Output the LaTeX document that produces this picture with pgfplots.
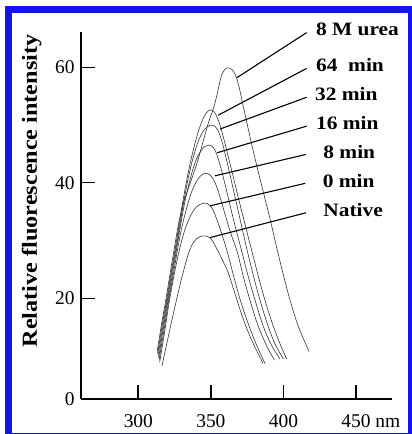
\documentclass[border=0pt]{standalone}
\usepackage{pgfplots}
\pgfplotsset{compat=1.18}
\usepackage{fontspec}
\setmainfont{Liberation Serif}
\newfontfamily\widefont{Liberation Serif}[FakeStretch=1.13]
\definecolor{frameblue}{RGB}{20,20,235}

\pgfplotsset{
  curve/.style={smooth, tension=0.55, line width=0.6bp, black!80, no markers},
  pointer/.style={line width=1.1bp, black, no markers},
}

\begin{document}
\begin{tikzpicture}
\useasboundingbox (0,0) rectangle (412bp,434bp);
\begin{axis}[
  at={(81bp,35bp)}, anchor=south west,
  scale only axis, width=311bp, height=367bp,
  xmin=260.5, xmax=474.8, ymin=2.56, ymax=66.1,
  axis x line=bottom, axis y line=left,
  axis line style={-, line width=1.6bp},
  tick align=inside, major tick length=14bp,
  xtick={300,350,400,450}, xticklabels={300,350,400,{450\rlap{\ nm}}},
  ytick={2.56,20,40,60}, yticklabels={0,20,40,60},
  xtick style={line width=1.8bp, black}, ytick style={line width=0.8bp, black},
  tick label style={font=\fontsize{19.5}{19.5}\selectfont},
  xticklabel style={yshift=-12bp},
  yticklabel style={xshift=-3bp},
  ylabel={Relative fluorescence intensity},
  ylabel style={at={(axis description cs:-0.159,0.567)}, anchor=center,
    font=\widefont\bfseries\fontsize{21.5}{21.5}\selectfont},
  clip=false,
]
% Native
\addplot[curve] coordinates {(316.3,8.3) (320,12.6) (325,18.3) (330,23.6) (334.4,27.6) (338,29.7) (342,30.6) (346,30.8) (350,30.3) (354,28.6) (358,26.6) (362,24.4) (366.6,20.8) (372,16.6) (378,12.8) (386,8.7)};
% 0 min
\addplot[curve] coordinates {(314.7,8.9) (318,14) (321.5,19.7) (325,24.5) (328.5,28.6) (332,31.8) (336,34.3) (340,35.8) (344,36.4) (347.5,36.4) (351,35.5) (355,33) (360.9,28.4) (365.5,24) (370,19.9) (375,16.1) (381,12.2) (387.3,8.7)};
% 8 min
\addplot[curve] coordinates {(314.3,9.3) (318,15) (321,19.7) (324,24) (327,28.4) (330,32.3) (333.5,35.8) (337,38.6) (341,40.6) (344.5,41.5) (348,41.6) (351.5,40.7) (355,38.6) (359,35.2) (363.5,31.4) (368.2,28) (372.5,23.6) (376.9,19.7) (382,15.6) (388,12) (393.7,9.3)};
% 16 min
\addplot[curve] coordinates {(314,9.7) (317.5,15.2) (320.5,19.7) (323.5,24.2) (326.3,28.4) (329,32.5) (332,36.6) (335.5,40.4) (339,43.4) (342.5,45.3) (346,46.3) (349.5,46.5) (352.5,45.8) (355.5,43.8) (359,40.5) (363,36.3) (367,32.2) (371.2,28.2) (375.5,24) (380.4,19.7) (386,15.2) (391.5,12) (397.6,9.5)};
% 32 min
\addplot[curve] coordinates {(313.6,10) (317,15.3) (320,19.7) (323,24.3) (325.8,28.4) (328.5,32.5) (331.5,37) (335,41.5) (338.5,45) (342,47.6) (345.5,49.2) (349,49.9) (352,49.9) (355,49) (358,46.8) (361.5,43.2) (365.5,38.8) (370,33.8) (374.7,28.6) (379,24.2) (383.8,19.7) (389,15.5) (394,12.2) (399.9,9.5)};
% 64 min
\addplot[curve] coordinates {(313.3,10.4) (316.5,15.4) (319.5,19.7) (322.5,24.3) (325.3,28.4) (328,32.6) (331,37.2) (334.5,41.9) (338,45.8) (341.5,49) (345,51.3) (348,52.4) (350.5,52.6) (353,52) (356,50.2) (359,47.5) (362,44.5) (366,40.4) (370,36.3) (374,32.3) (378.1,28.3) (382.5,24) (387.2,19.7) (392,15.9) (397,12.5) (402.2,9.5)};
% 8 M urea
\addplot[curve] coordinates {(313,10.8) (316,15.5) (319,19.8) (322,24.4) (324.7,28.5) (327.5,32.6) (330.5,36) (333.5,38.3) (336.8,40.7) (341.3,44.1) (344.8,47.3) (348.2,50.3) (351.4,52.6) (354,55) (357,58.3) (359.5,59.6) (362,59.9) (364.5,59.6) (367,58.6) (369.5,56.5) (372,53.6) (375.5,49.6) (379,45.7) (385,39.5) (390.7,33.8) (395.3,28.8) (400,24) (404.4,19.8) (410,15.3) (417.6,10.8)};

% pointer lines
\addplot[pointer] coordinates {(368,58.2) (416,66.0)};
\addplot[pointer] coordinates {(355.1,51.7) (416,59.8)};
\addplot[pointer] coordinates {(356.3,49.3) (416,54.8)};
\addplot[pointer] coordinates {(354.4,45.2) (416,49.8)};
\addplot[pointer] coordinates {(352.8,41.2) (415.5,44.9)};
\addplot[pointer] coordinates {(349.4,36.0) (415,39.9)};
\addplot[pointer] coordinates {(349.4,30.5) (415.5,34.8)};

\tikzset{lab/.style={anchor=west, inner sep=0pt, font=\widefont\bfseries\fontsize{19}{19}\selectfont}}
\node[lab] at (axis cs:422.4,66.6) {8 M urea};
\node[lab] at (axis cs:422.4,60.4) {64\ \ min};
\node[lab] at (axis cs:421.7,55.3) {32 min};
\node[lab] at (axis cs:422.4,50.3) {16 min};
\node[lab] at (axis cs:427.4,45.4) {8 min};
\node[lab] at (axis cs:427.0,40.3) {0 min};
\node[lab] at (axis cs:427.4,35.3) {Native};
\end{axis}
\draw[frameblue, line width=7bp] (8.5bp,-3bp) rectangle (411.5bp,424bp);
\end{tikzpicture}
\end{document}
